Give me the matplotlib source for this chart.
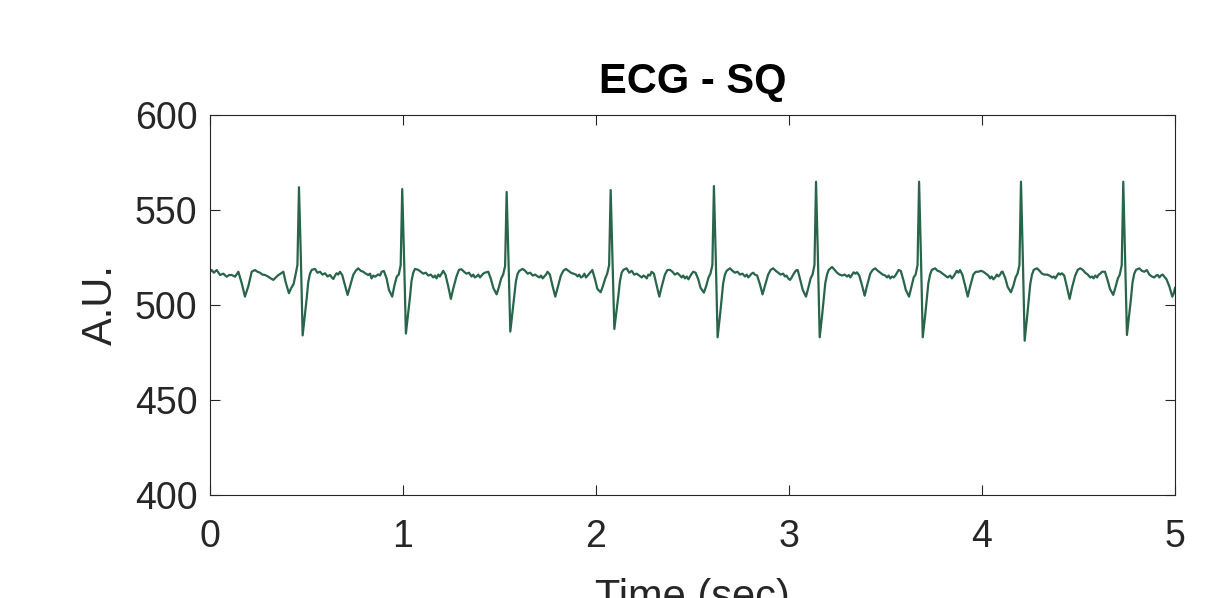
import matplotlib
matplotlib.use("Agg")
import matplotlib.pyplot as plt

plt.rcParams['font.family'] = ['Liberation Sans', 'DejaVu Sans']

# ---- data ----
time_s = [
    # lead-in
    0.000, 0.009, 0.020, 0.035, 0.052, 0.069, 0.086, 0.100, 0.112, 0.130,
    0.147, 0.164, 0.181, 0.199, 0.216, 0.233, 0.246, 0.259, 0.272, 0.285,
    0.302, 0.315, 0.328, 0.345, 0.355,
    0.366, 0.380, 0.392, 0.409, 0.421, 0.433, 0.443, 0.453,
    # beat 1
    0.461, 0.471, 0.480, 0.492, 0.501, 0.509, 0.518, 0.527, 0.544, 0.557,
    0.570, 0.583, 0.596, 0.609, 0.622, 0.631, 0.639, 0.648, 0.656, 0.665,
    0.673, 0.685, 0.699, 0.713, 0.725, 0.742, 0.755, 0.768, 0.781, 0.794,
    0.807, 0.820, 0.829, 0.837, 0.846, 0.855, 0.864, 0.872, 0.881, 0.889,
    0.901, 0.915, 0.927, 0.944, 0.956, 0.968, 0.978, 0.988,
    # beat 2
    0.996, 1.006, 1.015, 1.027, 1.036, 1.044, 1.053, 1.062, 1.079, 1.092,
    1.105, 1.118, 1.131, 1.144, 1.157, 1.166, 1.174, 1.183, 1.191, 1.200,
    1.208, 1.220, 1.234, 1.248, 1.260, 1.277, 1.290, 1.303, 1.316, 1.329,
    1.342, 1.355, 1.364, 1.372, 1.381, 1.390, 1.399, 1.407, 1.416, 1.424,
    1.442, 1.456, 1.468, 1.485, 1.497, 1.509, 1.519, 1.529,
    # beat 3
    1.537, 1.547, 1.556, 1.568, 1.577, 1.585, 1.594, 1.603, 1.620, 1.633,
    1.646, 1.659, 1.672, 1.685, 1.698, 1.707, 1.715, 1.724, 1.732, 1.741,
    1.749, 1.761, 1.775, 1.789, 1.801, 1.818, 1.831, 1.844, 1.857, 1.870,
    1.883, 1.896, 1.905, 1.913, 1.922, 1.931, 1.940, 1.948, 1.957, 1.965,
    1.981, 1.995, 2.007, 2.024, 2.036, 2.048, 2.058, 2.068,
    # beat 4
    2.076, 2.086, 2.095, 2.107, 2.116, 2.124, 2.133, 2.142, 2.159, 2.172,
    2.185, 2.198, 2.211, 2.224, 2.237, 2.246, 2.254, 2.263, 2.271, 2.280,
    2.288, 2.300, 2.314, 2.328, 2.340, 2.357, 2.370, 2.383, 2.396, 2.409,
    2.422, 2.435, 2.444, 2.452, 2.461, 2.470, 2.479, 2.487, 2.496, 2.504,
    2.516, 2.530, 2.542, 2.559, 2.571, 2.583, 2.593, 2.603,
    # beat 5
    2.611, 2.621, 2.630, 2.642, 2.651, 2.659, 2.668, 2.677, 2.694, 2.707,
    2.720, 2.733, 2.746, 2.759, 2.772, 2.781, 2.789, 2.798, 2.806, 2.815,
    2.823, 2.835, 2.849, 2.863, 2.875, 2.892, 2.905, 2.918, 2.931, 2.944,
    2.957, 2.970, 2.979, 2.987, 2.996, 3.005, 3.014, 3.022, 3.031, 3.039,
    3.045, 3.059, 3.071, 3.088, 3.100, 3.112, 3.122, 3.132,
    # beat 6
    3.140, 3.150, 3.159, 3.171, 3.180, 3.188, 3.197, 3.206, 3.223, 3.236,
    3.249, 3.262, 3.275, 3.288, 3.301, 3.310, 3.318, 3.327, 3.335, 3.344,
    3.352, 3.364, 3.378, 3.392, 3.404, 3.421, 3.434, 3.447, 3.460, 3.473,
    3.486, 3.499, 3.508, 3.516, 3.525, 3.534, 3.543, 3.551, 3.560, 3.568,
    3.579, 3.593, 3.605, 3.622, 3.634, 3.646, 3.656, 3.666,
    # beat 7
    3.674, 3.684, 3.693, 3.705, 3.714, 3.722, 3.731, 3.740, 3.757, 3.770,
    3.783, 3.796, 3.809, 3.822, 3.835, 3.844, 3.852, 3.861, 3.869, 3.878,
    3.886, 3.898, 3.912, 3.926, 3.938, 3.955, 3.968, 3.981, 3.994, 4.007,
    4.020, 4.033, 4.042, 4.050, 4.059, 4.068, 4.077, 4.085, 4.094, 4.102,
    4.107, 4.121, 4.133, 4.150, 4.162, 4.174, 4.184, 4.194,
    # beat 8
    4.202, 4.212, 4.221, 4.233, 4.242, 4.250, 4.259, 4.268, 4.285, 4.298,
    4.311, 4.324, 4.337, 4.350, 4.363, 4.372, 4.380, 4.389, 4.397, 4.406,
    4.414, 4.426, 4.440, 4.454, 4.466, 4.483, 4.496, 4.509, 4.522, 4.535,
    4.548, 4.561, 4.570, 4.578, 4.587, 4.596, 4.605, 4.613, 4.622, 4.630,
    4.637, 4.651, 4.663, 4.680, 4.692, 4.704, 4.714, 4.724,
    # beat 9
    4.732, 4.742, 4.751, 4.763, 4.772, 4.780, 4.789, 4.798, 4.815, 4.828,
    4.841, 4.854, 4.867, 4.880, 4.893, 4.902, 4.910, 4.919, 4.927, 4.936,
    4.944, 4.956, 4.970, 4.986, 4.993, 5.000,
]

ecg_au = [
    # lead-in
    517.5, 518.4, 517.0, 518.4, 515.8, 516.5, 514.9, 515.8, 515.8, 514.9,
    517.5, 511.6, 504.4, 510.0, 517.5, 518.4, 517.5, 517.0, 516.0, 515.8,
    514.9, 514.0, 513.2, 514.9, 515.8,
    516.5, 517.5, 512.0, 506.2, 509.0, 511.0, 515.8, 521.0,
    # beat 1
    562.0, 524.0, 484.0, 495.0, 503.5, 512.0, 516.5, 518.5, 519.0, 517.0,
    517.5, 516.0, 516.7, 515.0, 515.8, 514.5, 513.7, 515.5, 516.7, 516.0,
    517.5, 515.8, 510.5, 505.3, 509.6, 515.8, 518.0, 519.3, 518.0, 517.5,
    516.5, 515.8, 516.5, 514.0, 515.5, 514.9, 515.5, 516.1, 515.5, 517.5,
    517.9, 514.0, 508.0, 504.4, 510.5, 515.0, 516.0, 521.0,
    # beat 2
    561.0, 523.0, 485.0, 496.0, 504.0, 512.5, 517.0, 519.0, 518.5, 517.5,
    516.5, 517.0, 515.5, 516.0, 514.5, 515.5, 514.0, 516.0, 515.0, 516.5,
    518.0, 516.0, 510.0, 503.2, 508.5, 515.0, 518.5, 518.8, 517.5, 516.5,
    517.0, 515.0, 516.0, 514.5, 515.0, 516.0, 514.5, 515.5, 516.5, 517.0,
    517.5, 513.5, 509.0, 505.6, 509.5, 514.0, 516.0, 520.5,
    # beat 3
    559.5, 522.0, 486.0, 497.0, 505.0, 512.5, 516.5, 518.0, 519.0, 518.0,
    516.5, 517.0, 515.5, 516.0, 515.0, 514.5, 515.5, 514.0, 515.0, 516.0,
    517.5, 516.0, 510.0, 504.4, 509.0, 515.5, 518.0, 519.0, 518.0, 517.0,
    516.5, 516.0, 515.0, 516.0, 514.5, 515.0, 516.5, 514.5, 515.5, 516.5,
    518.4, 513.5, 508.5, 506.7, 510.0, 514.0, 516.5, 521.0,
    # beat 4
    560.5, 523.0, 487.4, 497.5, 505.0, 512.5, 517.0, 518.5, 519.3, 517.0,
    518.0, 516.0, 516.5, 515.5, 514.5, 515.5, 515.0, 514.0, 516.0, 515.5,
    517.5, 516.5, 510.5, 504.4, 509.5, 516.0, 518.4, 518.5, 517.5, 516.0,
    516.8, 515.5, 514.5, 515.5, 514.0, 515.0, 513.5, 515.0, 516.5, 517.5,
    517.0, 513.5, 509.0, 506.5, 510.0, 514.5, 516.5, 521.0,
    # beat 5
    562.6, 523.0, 483.0, 494.0, 503.0, 511.5, 516.0, 518.0, 519.3, 518.0,
    517.0, 517.5, 516.0, 516.5, 515.0, 516.0, 514.5, 515.5, 516.5, 517.0,
    516.0, 515.5, 511.0, 505.6, 510.0, 516.0, 518.5, 519.3, 518.0, 517.0,
    516.0, 516.5, 515.0, 515.5, 514.0, 513.2, 514.5, 516.0, 517.5, 518.4,
    518.4, 513.0, 508.0, 504.4, 509.0, 514.0, 516.0, 521.0,
    # beat 6
    564.9, 524.0, 483.0, 494.0, 503.0, 511.5, 516.0, 518.5, 520.0, 518.5,
    517.0, 516.0, 515.5, 516.0, 515.0, 515.8, 514.5, 516.0, 517.2, 516.5,
    517.2, 515.5, 510.5, 504.9, 510.0, 516.5, 518.5, 519.3, 518.0, 517.0,
    516.0, 515.5, 514.5, 515.5, 514.0, 515.0, 514.5, 515.5, 517.0, 518.4,
    518.0, 513.0, 508.0, 504.4, 509.5, 514.5, 516.0, 521.0,
    # beat 7
    564.9, 524.0, 483.0, 494.0, 503.0, 511.5, 516.0, 518.5, 519.3, 518.0,
    517.5, 516.5, 515.5, 514.5, 515.5, 514.0, 515.0, 516.5, 518.0, 517.0,
    518.4, 516.0, 510.5, 504.4, 509.5, 516.0, 517.5, 517.5, 518.0, 517.5,
    516.5, 515.5, 514.0, 515.0, 513.5, 514.5, 516.0, 515.0, 516.0, 517.5,
    517.5, 514.0, 509.5, 506.7, 510.0, 514.5, 516.5, 521.0,
    # beat 8
    564.9, 523.0, 481.2, 493.0, 502.5, 511.0, 516.0, 518.5, 519.3, 518.0,
    516.5, 516.0, 516.0, 515.5, 514.5, 515.0, 514.0, 515.5, 516.7, 516.0,
    516.7, 515.5, 509.5, 503.2, 509.0, 515.5, 518.5, 519.3, 518.5, 517.0,
    516.0, 514.5, 515.0, 514.0, 515.5, 514.5, 516.0, 516.5, 517.5, 517.5,
    517.5, 513.0, 508.5, 505.3, 509.5, 514.0, 516.0, 521.0,
    # beat 9
    564.9, 523.0, 484.2, 495.0, 503.5, 512.0, 516.5, 518.5, 519.3, 518.0,
    517.5, 518.4, 516.0, 515.0, 514.5, 515.5, 515.8, 514.5, 515.5, 516.0,
    515.0, 513.5, 510.0, 504.4, 506.0, 509.0,
]

x_ticks = [0, 1, 2, 3, 4, 5]
y_ticks = [400, 450, 500, 550, 600]
title_text = "ECG - SQ"
x_label = "Time (sec)"
y_label = "A.U."

assert len(time_s) == len(ecg_au)

# ---- figure ----
fig = plt.figure(figsize=(12.18, 5.98), dpi=100)
ax = fig.add_axes([210 / 1218, 1 - 495 / 598, (1175 - 210) / 1218, (495 - 115) / 598])

ax.plot(time_s, ecg_au, color='#28654a', linewidth=1.6)

ax.set_xlim(0, 5)
ax.set_ylim(400, 600)
ax.set_xticks(x_ticks)
ax.set_yticks(y_ticks)

axis_col = '#262626'
for s in ax.spines.values():
    s.set_color(axis_col)
    s.set_linewidth(0.8)
ax.tick_params(axis='both', which='both', direction='in', length=7, width=0.8,
               colors=axis_col, labelsize=27, top=True, right=True)
ax.tick_params(axis='x', pad=17)
ax.tick_params(axis='y', pad=9)

ax.set_title(title_text, fontsize=30, fontweight='bold', pad=16, color='black')
ax.set_xlabel(x_label, fontsize=30, color=axis_col, labelpad=17)
ax.set_ylabel(y_label, fontsize=30, color=axis_col, labelpad=10)

fig.savefig('out.png', dpi=100)
